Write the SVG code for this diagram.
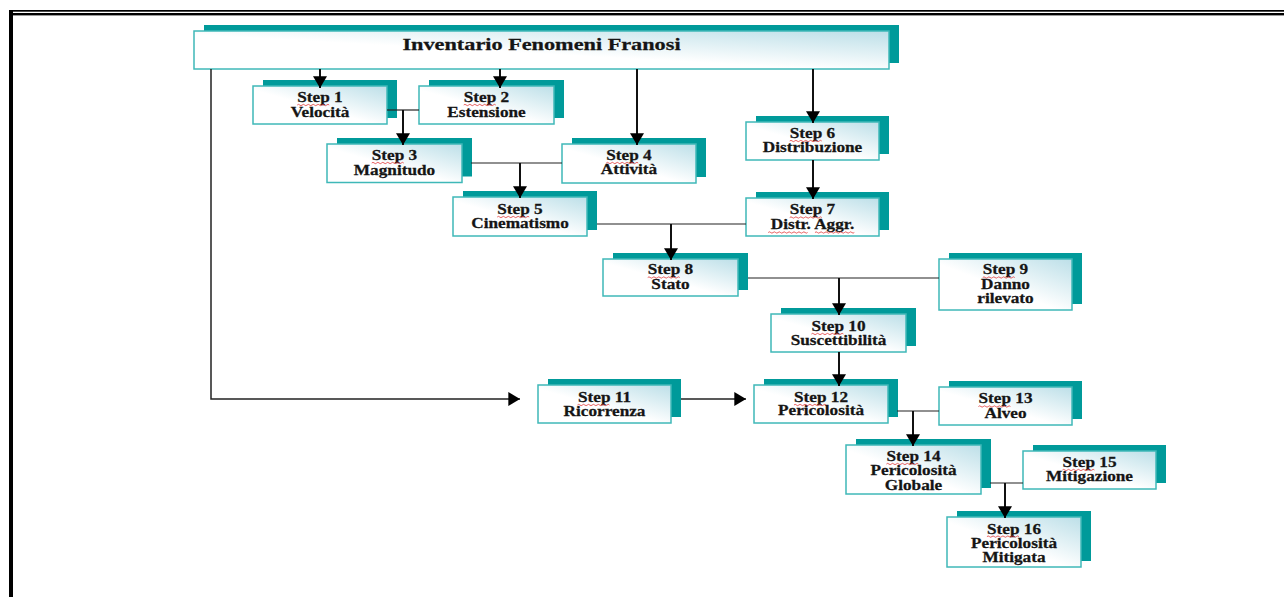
<svg xmlns="http://www.w3.org/2000/svg" xmlns:xlink="http://www.w3.org/1999/xlink" width="1284" height="597" viewBox="0 0 1284 597">
<defs>
<linearGradient id="gr" x1="0" y1="1" x2="1" y2="0">
<stop offset="0" stop-color="#ffffff"/>
<stop offset="0.45" stop-color="#ffffff"/>
<stop offset="1" stop-color="#bcdfe8"/>
</linearGradient>
<marker id="ah" markerUnits="userSpaceOnUse" markerWidth="14" markerHeight="14" viewBox="0 0 10 12" refX="10" refY="6" orient="auto">
<path d="M0,0 L10,6 L0,12 Z" fill="#000"/>
</marker>
<path id="sq" d="M0 0 q1 -1.3 2 0 t2 0 t2 0 t2 0 t2 0 t2 0 t2 0 t2 0 t2 0 t2 0 t2 0 t2 0 t2 0" fill="none" stroke="#e03030" stroke-width="0.7"/>
<path id="sq2" d="M0 0 q1 -1.3 2 0 t2 0 t2 0 t2 0 t2 0 t2 0 t2 0 t2 0 t2 0 t2 0 t2 0 t2 0 t2 0 t2 0 t2 0 t2 0" fill="none" stroke="#e03030" stroke-width="0.7"/>
</defs>
<style>
.sh{fill:#009a9a}
.bx{fill:url(#gr);stroke:#3fb8b8;stroke-width:1.5}
.t{font-family:"Liberation Serif","Times New Roman",serif;font-weight:bold;font-size:14px;fill:#151515;stroke:#151515;stroke-width:0.25;text-anchor:middle}
.tt{font-size:17px}
.ar{fill:none;stroke:#111;stroke-width:2;marker-end:url(#ah)}
.ln{fill:none;stroke:#222;stroke-width:1.2}
.lb{fill:none;stroke:#222;stroke-width:1.5;marker-end:url(#ah)}
</style>
<rect width="1284" height="597" fill="#fff"/>
<g id="frame">
<rect x="9" y="10" width="1275" height="1.7" fill="#000"/>
<rect x="9" y="13" width="1275" height="2.4" fill="#000"/>
<rect x="9" y="10" width="4" height="587" fill="#000"/>
</g>

<g id="title">
<rect class="sh" x="204" y="25" width="695" height="38"/>
<rect class="bx" x="194" y="31" width="695" height="38"/>
<g transform="translate(541.5 0) scale(1.31 1)"><text class="t tt" x="0" y="50.5">Inventario Fenomeni Franosi</text></g>
</g>

<g id="step1">
<rect class="sh" x="263" y="80" width="134" height="38"/>
<rect class="bx" x="253" y="86" width="134" height="38"/>
<g transform="translate(320 0) scale(1.23 1)"><text class="t" x="0" y="102">Step 1</text><text class="t" x="0" y="117">Velocità</text><use href="#sq" x="-18.5" y="105"/></g>
</g>

<g id="step2">
<rect class="sh" x="429" y="80" width="135" height="38"/>
<rect class="bx" x="419" y="86" width="135" height="38"/>
<g transform="translate(486.5 0) scale(1.23 1)"><text class="t" x="0" y="102">Step 2</text><text class="t" x="0" y="117">Estensione</text><use href="#sq" x="-18.5" y="105"/></g>
</g>

<g id="step3">
<rect class="sh" x="337" y="138" width="135" height="38.5"/>
<rect class="bx" x="327" y="144" width="135" height="38.5"/>
<g transform="translate(394.5 0) scale(1.23 1)"><text class="t" x="0" y="160">Step 3</text><text class="t" x="0" y="175">Magnitudo</text><use href="#sq" x="-18.5" y="163"/></g>
</g>

<g id="step4">
<rect class="sh" x="572" y="138" width="134" height="39"/>
<rect class="bx" x="562" y="144" width="134" height="39"/>
<g transform="translate(629 0) scale(1.23 1)"><text class="t" x="0" y="160">Step 4</text><text class="t" x="0" y="174.5">Attività</text><use href="#sq" x="-18.5" y="163"/></g>
</g>

<g id="step5">
<rect class="sh" x="463" y="191" width="134" height="39"/>
<rect class="bx" x="453" y="197" width="134" height="39"/>
<g transform="translate(520 0) scale(1.23 1)"><text class="t" x="0" y="214">Step 5</text><text class="t" x="0" y="228.5">Cinematismo</text><use href="#sq" x="-18.5" y="217"/></g>
</g>

<g id="step6">
<rect class="sh" x="756" y="116" width="133" height="38"/>
<rect class="bx" x="746" y="122" width="133" height="38"/>
<g transform="translate(812.5 0) scale(1.23 1)"><text class="t" x="0" y="138">Step 6</text><text class="t" x="0" y="152.5">Distribuzione</text><use href="#sq" x="-18.5" y="141"/></g>
</g>

<g id="step7">
<rect class="sh" x="756" y="192" width="133" height="38"/>
<rect class="bx" x="746" y="198" width="133" height="38"/>
<g transform="translate(812.5 0) scale(1.23 1)"><text class="t" x="0" y="214.5">Step 7</text><text class="t" x="0" y="229.5">Distr. Aggr.</text><use href="#sq" x="-18.5" y="217.5"/><use href="#sq2" x="-36" y="232.5"/><use href="#sq2" x="2" y="232.5"/></g>
</g>

<g id="step8">
<rect class="sh" x="613" y="253" width="135" height="37"/>
<rect class="bx" x="603" y="259" width="135" height="37"/>
<g transform="translate(670.5 0) scale(1.23 1)"><text class="t" x="0" y="274.5">Step 8</text><text class="t" x="0" y="289.5">Stato</text><use href="#sq" x="-18.5" y="277.5"/></g>
</g>

<g id="step9">
<rect class="sh" x="949" y="253" width="133" height="51"/>
<rect class="bx" x="939" y="259" width="133" height="51"/>
<g transform="translate(1005.5 0) scale(1.23 1)"><text class="t" x="0" y="274.5">Step 9</text><text class="t" x="0" y="288.7">Danno</text><text class="t" x="0" y="302.7">rilevato</text><use href="#sq" x="-18.5" y="277.5"/></g>
</g>

<g id="step10">
<rect class="sh" x="781" y="308" width="135" height="38"/>
<rect class="bx" x="771" y="314" width="135" height="38"/>
<g transform="translate(838.5 0) scale(1.23 1)"><text class="t" x="0" y="331">Step 10</text><text class="t" x="0" y="345.5">Suscettibilità</text><use href="#sq" x="-22" y="334"/></g>
</g>

<g id="step11">
<rect class="sh" x="548" y="379" width="133" height="38"/>
<rect class="bx" x="538" y="385" width="133" height="38"/>
<g transform="translate(604.5 0) scale(1.23 1)"><text class="t" x="0" y="402">Step 11</text><text class="t" x="0" y="416">Ricorrenza</text><use href="#sq" x="-22" y="405"/></g>
</g>

<g id="step12">
<rect class="sh" x="764" y="379" width="134" height="38"/>
<rect class="bx" x="754" y="385" width="134" height="38"/>
<g transform="translate(821 0) scale(1.23 1)"><text class="t" x="0" y="402">Step 12</text><text class="t" x="0" y="415.5">Pericolosità</text><use href="#sq" x="-22" y="405"/></g>
</g>

<g id="step13">
<rect class="sh" x="949" y="381" width="133" height="38"/>
<rect class="bx" x="939" y="387" width="133" height="38"/>
<g transform="translate(1005.5 0) scale(1.23 1)"><text class="t" x="0" y="403.5">Step 13</text><text class="t" x="0" y="418">Alveo</text><use href="#sq" x="-22" y="406.5"/></g>
</g>

<g id="step14">
<rect class="sh" x="856" y="439" width="135" height="49"/>
<rect class="bx" x="846" y="445" width="135" height="49"/>
<g transform="translate(913.5 0) scale(1.23 1)"><text class="t" x="0" y="461">Step 14</text><text class="t" x="0" y="475.3">Pericolosità</text><text class="t" x="0" y="489.6">Globale</text><use href="#sq" x="-22" y="464"/></g>
</g>

<g id="step15">
<rect class="sh" x="1033" y="445" width="133" height="38"/>
<rect class="bx" x="1023" y="451" width="133" height="38"/>
<g transform="translate(1089.5 0) scale(1.23 1)"><text class="t" x="0" y="467">Step 15</text><text class="t" x="0" y="481.5">Mitigazione</text><use href="#sq" x="-22" y="470"/></g>
</g>

<g id="step16">
<rect class="sh" x="957" y="511" width="134" height="50"/>
<rect class="bx" x="947" y="517" width="134" height="50"/>
<g transform="translate(1014 0) scale(1.23 1)"><text class="t" x="0" y="533.6">Step 16</text><text class="t" x="0" y="547.6">Pericolosità</text><text class="t" x="0" y="562">Mitigata</text><use href="#sq" x="-22" y="536.6"/></g>
</g>

<g id="connectors">
<path class="ar" d="M320,69 V88"/>
<path class="ar" d="M500,69 V88"/>
<path class="ln" d="M387,110 H419"/>
<path class="ar" d="M403,110 V145"/>
<path class="ar" d="M637,69 V145"/>
<path class="ar" d="M813,69 V123"/>
<path class="ar" d="M813,160 V199"/>
<path class="ln" d="M471,163 H562"/>
<path class="ar" d="M520,163 V198"/>
<path class="ln" d="M597,224 H746"/>
<path class="ar" d="M671,224 V260"/>
<path class="ln" d="M748,278 H939"/>
<path class="ar" d="M839,278 V315"/>
<path class="ar" d="M839,352 V386"/>
<path class="lb" d="M211,69 V399 H520"/>
<path class="lb" d="M681,399 H746"/>
<path class="ln" d="M897,411 H939"/>
<path class="ar" d="M913,411 V446"/>
<path class="ln" d="M990,483 H1023"/>
<path class="ar" d="M1005,483 V518"/>
</g>
</svg>
